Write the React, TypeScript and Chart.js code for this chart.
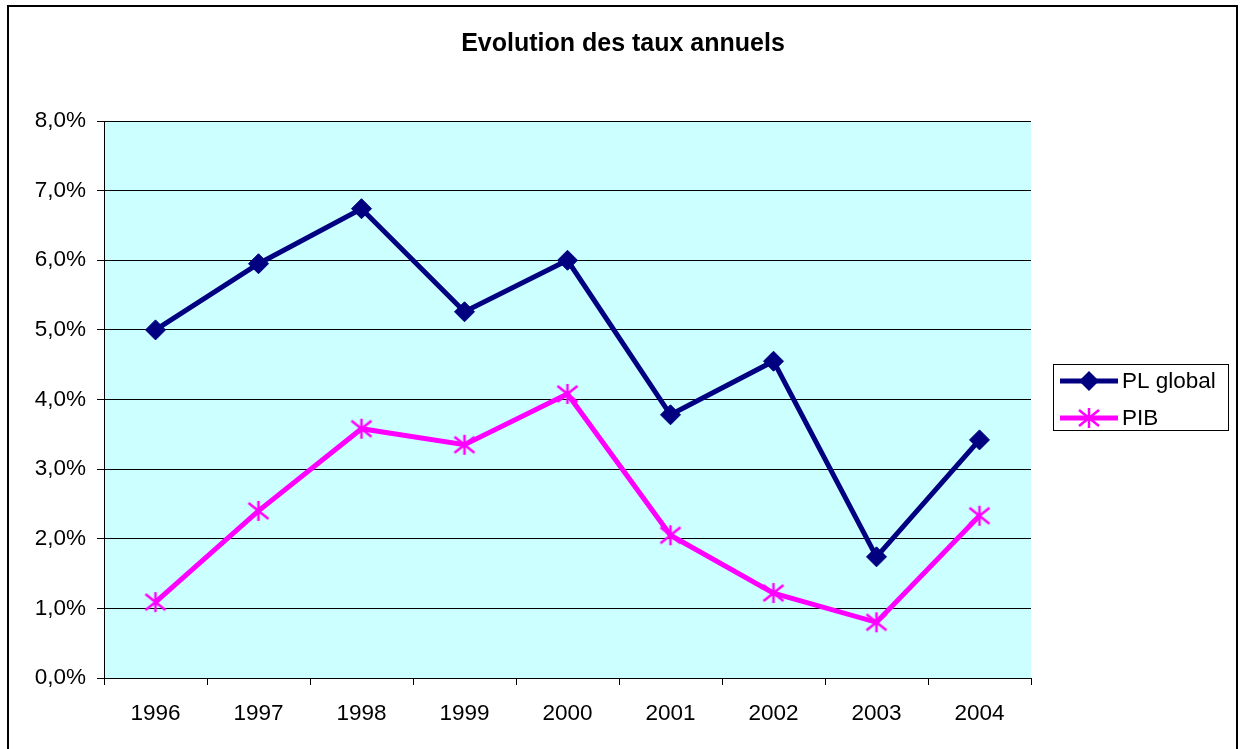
import React, { useEffect, useRef } from "react";
import { Chart, registerables } from "chart.js";

Chart.register(...registerables);

const categories = ["1996", "1997", "1998", "1999", "2000", "2001", "2002", "2003", "2004"];
const plGlobal = [5.0, 5.95, 6.74, 5.26, 6.0, 3.78, 4.55, 1.74, 3.42];
const pib = [1.09, 2.4, 3.58, 3.35, 4.08, 2.05, 1.22, 0.8, 2.33];
const seriesNames = ["PL global", "PIB"];
const titleText = "Evolution des taux annuels";

const FONT = "'Liberation Sans', Arial, sans-serif";
const NAVY = "#000080";
const MAGENTA = "#FF00FF";

function makeStar(color: string): HTMLCanvasElement {
  const c = document.createElement("canvas");
  c.width = 24;
  c.height = 24;
  const ctx = c.getContext("2d")!;
  ctx.strokeStyle = color;
  ctx.lineWidth = 2.5;
  ctx.lineCap = "butt";
  ctx.beginPath();
  ctx.moveTo(12, 2);
  ctx.lineTo(12, 22);
  ctx.moveTo(2, 4);
  ctx.lineTo(22, 20);
  ctx.moveTo(22, 4);
  ctx.lineTo(2, 20);
  ctx.stroke();
  return c;
}

export default function App() {
  const ref = useRef<HTMLCanvasElement | null>(null);
  useEffect(() => {
    const canvas = ref.current!;
    const star = makeStar(MAGENTA);
    const decor = {
      id: "decor",
      beforeDraw(chart: any) {
        const { ctx, chartArea } = chart;
        ctx.save();
        ctx.fillStyle = "#ffffff";
        ctx.fillRect(0, 0, chart.width, chart.height);
        ctx.fillStyle = "#CCFFFF";
        ctx.fillRect(chartArea.left, chartArea.top, chartArea.right - chartArea.left, chartArea.bottom - chartArea.top);
        ctx.restore();
      },
      afterDraw(chart: any) {
        const { ctx } = chart;
        ctx.save();
        // outer border
        ctx.strokeStyle = "#000";
        ctx.lineWidth = 2;
        ctx.strokeRect(8, 6, 1229, 745);
        // title
        ctx.fillStyle = "#000";
        ctx.font = `bold 25px ${FONT}`;
        ctx.textAlign = "center";
        ctx.textBaseline = "middle";
        ctx.fillText(titleText, 623, 44);
        // legend
        ctx.lineWidth = 1;
        ctx.strokeStyle = "#000";
        ctx.strokeRect(1053.5, 364.5, 175, 66);
        ctx.font = `22.5px ${FONT}`;
        ctx.textAlign = "left";
        const rows = [381, 418];
        const colors = [NAVY, MAGENTA];
        rows.forEach((y, i) => {
          ctx.strokeStyle = colors[i];
          ctx.lineWidth = 5;
          ctx.beginPath();
          ctx.moveTo(1060, y);
          ctx.lineTo(1118, y);
          ctx.stroke();
          if (i === 0) {
            ctx.fillStyle = NAVY;
            ctx.beginPath();
            ctx.moveTo(1089, y - 10);
            ctx.lineTo(1099, y);
            ctx.lineTo(1089, y + 10);
            ctx.lineTo(1079, y);
            ctx.closePath();
            ctx.fill();
          } else {
            ctx.drawImage(star, 1089 - 12, y - 12);
          }
          ctx.fillStyle = "#000";
          ctx.fillText(seriesNames[i], 1122, y + 1);
        });
        ctx.restore();
      },
    };
    const chart = new Chart(canvas, {
      type: "line",
      data: {
        labels: categories,
        datasets: [
          {
            label: seriesNames[0],
            data: plGlobal,
            borderColor: NAVY,
            backgroundColor: NAVY,
            borderWidth: 5,
            pointStyle: "rectRot",
            pointRadius: 10,
            pointBorderWidth: 1,
            pointBackgroundColor: NAVY,
            pointBorderColor: NAVY,
            tension: 0,
          },
          {
            label: seriesNames[1],
            data: pib,
            borderColor: MAGENTA,
            backgroundColor: MAGENTA,
            borderWidth: 5,
            pointStyle: star as any,
            pointRadius: 10,
            tension: 0,
          },
        ],
      },
      options: {
        responsive: false,
        animation: false,
        devicePixelRatio: 1,
        layout: { padding: { left: 0, top: 121, right: 209, bottom: 0 } },
        plugins: { legend: { display: false }, title: { display: false }, tooltip: { enabled: false } },
        scales: {
          x: {
            offset: true,
            grid: { offset: true, drawOnChartArea: false, drawTicks: true, tickLength: 7, color: "#000", lineWidth: 1 },
            border: { display: true, color: "#000", width: 1 },
            ticks: { color: "#000", font: { family: FONT, size: 22.5 }, padding: 15, maxRotation: 0 },
            afterFit: (s: any) => { s.height = 71; },
          },
          y: {
            min: 0,
            max: 8,
            grid: { color: "#000", lineWidth: 1, tickLength: 7, drawTicks: true },
            border: { display: true, color: "#000", width: 1 },
            ticks: {
              stepSize: 1,
              color: "#000",
              padding: 11,
              font: { family: FONT, size: 22.5 },
              callback: (v: any) => Number(v).toFixed(1).replace(".", ",") + "%",
            },
            afterFit: (s: any) => { s.width = 104; },
          },
        },
      },
      plugins: [decor],
    });
    return () => chart.destroy();
  }, []);
  return (
    <div style={{ position: "fixed", left: 0, top: 0, width: 1240, height: 749, background: "#fff" }}>
      <canvas ref={ref} width={1240} height={749} style={{ display: "block" }} />
    </div>
  );
}
